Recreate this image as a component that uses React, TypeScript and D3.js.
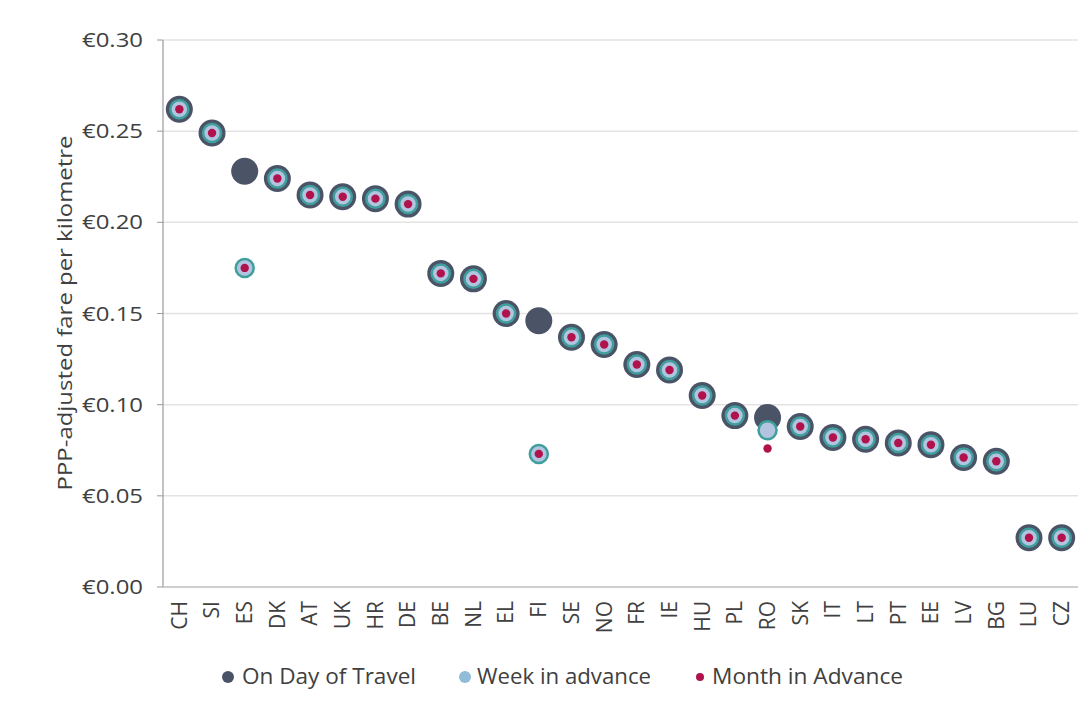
import React from "react";
import * as d3 from "d3";

const countries = ["CH","SI","ES","DK","AT","UK","HR","DE","BE","NL","EL","FI","SE","NO","FR","IE","HU","PL","RO","SK","IT","LT","PT","EE","LV","BG","LU","CZ"];
const dayOfTravel = [0.262,0.249,0.228,0.224,0.215,0.214,0.213,0.210,0.172,0.169,0.150,0.146,0.137,0.133,0.122,0.119,0.105,0.094,0.093,0.088,0.082,0.081,0.079,0.078,0.071,0.069,0.027,0.027];
const weekInAdvance = [0.262,0.249,0.175,0.224,0.215,0.214,0.213,0.210,0.172,0.169,0.150,0.073,0.137,0.133,0.122,0.119,0.105,0.094,0.086,0.088,0.082,0.081,0.079,0.078,0.071,0.069,0.027,0.027];
const monthInAdvance = [0.262,0.249,0.175,0.224,0.215,0.214,0.213,0.210,0.172,0.169,0.150,0.073,0.137,0.133,0.122,0.119,0.105,0.094,0.076,0.088,0.082,0.081,0.079,0.078,0.071,0.069,0.027,0.027];
const yTicks = [0, 0.05, 0.1, 0.15, 0.2, 0.25, 0.3];
const legendItems = ["On Day of Travel", "Week in advance", "Month in Advance"];

const W = 1079, H = 711;
const left = 163, right = 1078, top = 40, bottom = 587;
const font = "'Open Sans', sans-serif";
const textColor = "#404040";
const darkColor = "#4b5467";
const weekFill = "#b2c4e0";
const weekStroke = "#3f9f9c";
const monthColor = "#b0124b";

// legend layout: marker x, text x, text length, marker colour, marker radius
const legendLayout = [
  { mx: 228, tx: 242, len: 174, color: darkColor, r: 6 },
  { mx: 465, tx: 477, len: 174, color: "#8fbcd6", r: 6 },
  { mx: 700, tx: 712, len: 191, color: monthColor, r: 4 },
];

export default function App() {
  const x = d3.scaleBand<string>().domain(countries).range([left, right]);
  const y = d3.scaleLinear().domain([0, 0.3]).range([bottom, top]);
  const cx = (c: string) => (x(c) as number) + x.bandwidth() / 2;
  const fmt = (v: number) => "€" + d3.format(".2f")(v);

  return (
    <svg width={W} height={H} style={{ position: "absolute", left: 0, top: 0, background: "#fff" }}>
      {yTicks.map((t) => (
        <g key={t}>
          {t > 0 && <line x1={left} x2={right} y1={y(t)} y2={y(t)} stroke="#e3e3e3" strokeWidth={1.5} />}
          <line x1={left - 6} x2={left} y1={y(t)} y2={y(t)} stroke="#9a9a9a" strokeWidth={1} />
          <text x={143} y={y(t)} dy="0.35em" textAnchor="end" fontFamily={font} fontSize={20} fill={textColor}
            textLength={61} lengthAdjust="spacingAndGlyphs">{fmt(t)}</text>
        </g>
      ))}
      <line x1={left} x2={left} y1={top} y2={bottom} stroke="#9a9a9a" strokeWidth={1.2} />
      <line x1={left} x2={right} y1={bottom} y2={bottom} stroke="#bfbfbf" strokeWidth={1.5} />
      <text transform={`translate(72,313) rotate(-90)`} textAnchor="middle" fontFamily={font} fontSize={20} fill={textColor}
        textLength={355} lengthAdjust="spacingAndGlyphs">PPP-adjusted fare per kilometre</text>
      {countries.map((c) => (
        <text key={c} transform={`translate(${cx(c)},601) rotate(-90)`} dy="0.35em" textAnchor="end" fontFamily={font} fontSize={21} fill={textColor}>{c}</text>
      ))}
      {countries.map((c, i) => (
        <circle key={"d" + c} cx={cx(c)} cy={y(dayOfTravel[i])} r={13.5} fill={darkColor} />
      ))}
      {countries.map((c, i) => (
        <circle key={"w" + c} cx={cx(c)} cy={y(weekInAdvance[i])} r={9} fill={weekFill} stroke={weekStroke} strokeWidth={2.5} />
      ))}
      {countries.map((c, i) => (
        <circle key={"m" + c} cx={cx(c)} cy={y(monthInAdvance[i])} r={4.2} fill={monthColor} />
      ))}
      <g fontFamily={font} fontSize={21} fill={textColor}>
        {legendItems.map((label, i) => {
          const l = legendLayout[i];
          return (
            <g key={label}>
              <circle cx={l.mx} cy={677} r={l.r} fill={l.color} />
              <text x={l.tx} y={677} dy="0.35em" textLength={l.len} lengthAdjust="spacingAndGlyphs">{label}</text>
            </g>
          );
        })}
      </g>
    </svg>
  );
}
